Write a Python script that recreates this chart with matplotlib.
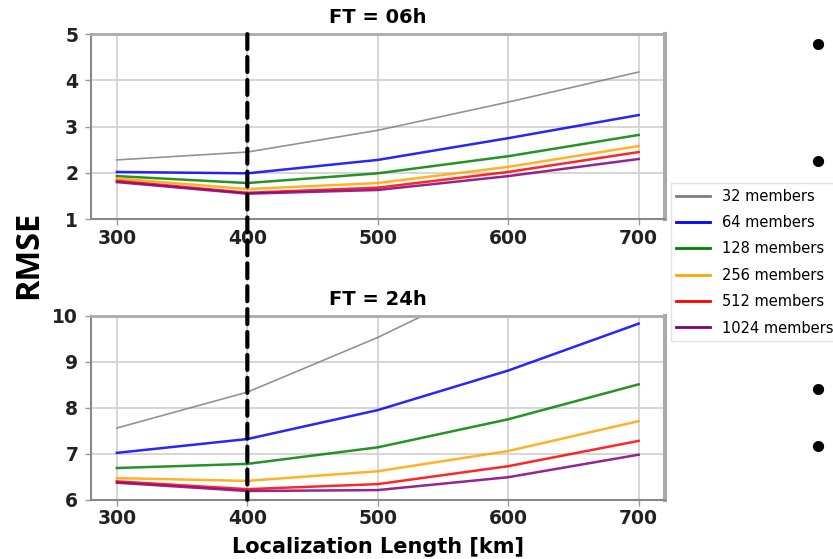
import matplotlib
matplotlib.use("Agg")
import numpy as np
from matplotlib import pyplot as plt
from matplotlib.patches import ConnectionPatch
from matplotlib.lines import Line2D

# localization length [km]
loc_len = [300, 400, 500, 600, 700]
members = ["32 members", "64 members", "128 members",
           "256 members", "512 members", "1024 members"]
colors = ["gray", "blue", "green", "orange", "red", "purple"]

# RMSE, FT = 06h
rmse_06 = [
    [2.28, 2.45, 2.92, 3.53, 4.18],
    [2.02, 1.99, 2.28, 2.75, 3.25],
    [1.93, 1.78, 1.99, 2.36, 2.82],
    [1.88, 1.65, 1.78, 2.13, 2.58],
    [1.83, 1.57, 1.68, 2.02, 2.45],
    [1.80, 1.55, 1.63, 1.93, 2.30],
]
# RMSE, FT = 24h
rmse_24 = [
    [7.56, 8.34, 9.53, 10.9, 12.4],
    [7.02, 7.32, 7.95, 8.81, 9.83],
    [6.69, 6.78, 7.14, 7.75, 8.51],
    [6.47, 6.41, 6.62, 7.06, 7.71],
    [6.40, 6.23, 6.34, 6.73, 7.28],
    [6.37, 6.19, 6.21, 6.49, 6.98],
]

fig = plt.figure(figsize=(8.33, 5.59), dpi=100)
ax1 = fig.add_axes([0.109, 0.608, 0.689, 0.331])
ax2 = fig.add_axes([0.109, 0.106, 0.689, 0.329])

def style_axes(ax, title, ylim, yticks):
    ax.set_xlim(280, 720)
    ax.set_ylim(*ylim)
    ax.set_xticks(loc_len)
    ax.set_yticks(yticks)
    ax.grid(True, color="#d0d0d0", linewidth=1.2)
    ax.set_axisbelow(True)
    ax.set_title(title, fontsize=14, fontweight="bold", pad=8)
    for lab in ax.get_xticklabels() + ax.get_yticklabels():
        lab.set_fontweight("bold")
        lab.set_fontsize(13.5)
    ax.tick_params(axis="x", colors="#999999", labelcolor="#222222",
                   length=4, width=1, pad=3)
    ax.tick_params(axis="y", colors="#999999", labelcolor="#222222",
                   length=4, width=1, pad=5)
    for side in ["left", "bottom"]:
        ax.spines[side].set_color("#888888")
        ax.spines[side].set_linewidth(1.5)
    ax.spines["top"].set_color("#aaaaaa")
    ax.spines["top"].set_linewidth(2)
    ax.spines["right"].set_color("#aaaaaa")
    ax.spines["right"].set_linewidth(3)

for vals, c, lab in zip(rmse_06, colors, members):
    ax1.plot(loc_len, vals, color=c, linewidth=1.8 if c != "gray" else 1.2,
             alpha=0.85, label=lab)
for vals, c in zip(rmse_24, colors):
    ax2.plot(loc_len, vals, color=c, linewidth=1.8 if c != "gray" else 1.2,
             alpha=0.85)

style_axes(ax1, "FT = 06h", (1, 5), [1, 2, 3, 4, 5])
style_axes(ax2, "FT = 24h", (6, 10), [6, 7, 8, 9, 10])
ax2.set_xlabel("Localization Length [km]", fontsize=15, fontweight="bold",
               labelpad=6)

# dashed line at 400 km across both panels
con = ConnectionPatch(xyA=(400, 5), coordsA=ax1.transData,
                      xyB=(400, 6), coordsB=ax2.transData,
                      color="black", linewidth=3, linestyle=(0, (3.6, 1.9)),
                      zorder=10)
fig.add_artist(con)

fig.text(0.034, 0.544, "RMSE", rotation=90, fontsize=23.5, fontweight="bold",
         family="Open Sans", ha="center", va="center")

handles = [Line2D([], [], color=c, linewidth=2) for c in colors]
leg = fig.legend(handles, members, loc="upper left",
                 bbox_to_anchor=(0.805, 0.673), fontsize=10.5,
                 frameon=True, fancybox=False, handlelength=2.3,
                 handletextpad=0.8, labelspacing=0.78, borderpad=0.4,
                 borderaxespad=0)
leg.get_frame().set_edgecolor("#dddddd")
leg.get_frame().set_linewidth(1)

for yb in [0.914, 0.705, 0.297, 0.195]:
    fig.text(0.982, yb, "\u2022", fontsize=28, ha="center", va="center")

fig.savefig("out.png", dpi=100)
